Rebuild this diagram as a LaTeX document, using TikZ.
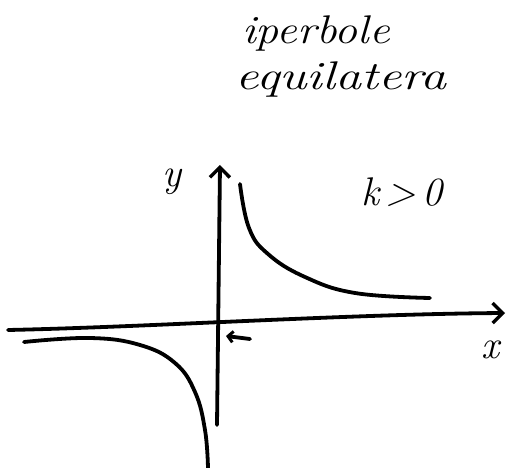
\documentclass[tikz,border=0pt]{standalone}
\usetikzlibrary{arrows.meta}
\begin{document}
\begin{tikzpicture}[x=1pt,y=-1pt,
  stroke/.style={line width=3.8pt,line cap=round,line join=round},
  axis/.style={stroke,-{Straight Barb[length=10pt,width=20pt,line width=3.4pt]}},
  lbl/.style={font=\fontsize{40}{42}\selectfont\itshape,inner sep=0pt}]
\useasboundingbox[fill=white] (0,0) rectangle (514,468);
% title
\node[lbl,xscale=1.15] (t1) at (316,34) {iperbole};
\node[lbl,xscale=1.3] (t2) at (341,80) {equilatera};
% axes
\coordinate (xs) at (8,330);
\coordinate (xe) at (505,313);
\coordinate (ys) at (217,425);
\coordinate (ye) at (220,165);
\draw[axis] (xs) .. controls (150,327) and (350,314) .. (xe);
\draw[axis] (ys) -- (ye);
% labels
\node[lbl] (ylab) at (172,182) {y};
\node[lbl] (klab) at (402,192) {k\,>\,0};
\node[lbl] (xlab) at (490,350) {x};
% hyperbola branches
\draw[stroke] plot[smooth,tension=0.7] coordinates {(240,184) (249,228) (268,254) (305,277) (355,293) (430,298)};
\draw[stroke] plot[smooth,tension=0.7] coordinates {(24,342) (90,338) (140,345) (175,363) (195,392) (205,430) (208,468)};
% small arrow near origin
\coordinate (as) at (250,339);
\coordinate (ae) at (226,336);
\draw[stroke,-{Straight Barb[length=5pt,width=11pt,line width=3pt]}] (as) -- (ae);
\end{tikzpicture}
\end{document}
